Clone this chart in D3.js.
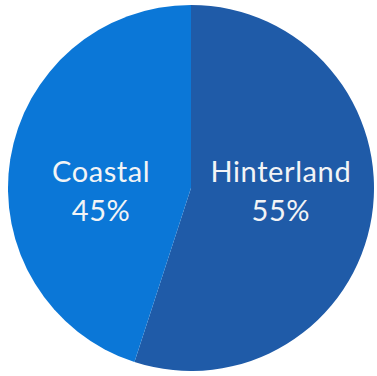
<!DOCTYPE html>
<html>
<head>
<meta charset="utf-8">
<script src="https://cdn.jsdelivr.net/npm/d3@7"></script>
<style>
  body { margin: 0; background: #fff; }
  svg { display: block; }
  .label { font-family: Lato, "Open Sans", sans-serif; font-size: 29px; letter-spacing: 0.6px; fill: #f2f4f6; }
</style>
</head>
<body>
<svg class="chart" width="377" height="376"></svg>
<script>
var names = ["Hinterland", "Coastal"];
var shares = [55, 45];
var colors = ["#1f5ba8", "#0b77d7"];

var svgWidth = 377,
    svgHeight = 376;
var cx = 191, cy = 188, radius = 183;
var labelR = 91;

var pie = d3.pie()
    .sort(null)
    .value(function(d) { return d; });

var arc = d3.arc()
    .innerRadius(0)
    .outerRadius(radius);

var slices = pie(shares);

var g = d3.select(".chart").append("g")
    .attr("transform", "translate(" + cx + "," + cy + ")");

g.selectAll("path.slice")
    .data(slices)
    .enter().append("path")
    .attr("class", "slice")
    .attr("fill", function(d, i) { return colors[i]; })
    .attr("d", arc);

// labels sit level with the centre, pushed out along the slice mid angle
var labels = g.selectAll("text.label")
    .data(slices)
    .enter().append("text")
    .attr("class", "label")
    .attr("text-anchor", "middle")
    .attr("x", function(d) {
        var mid = (d.startAngle + d.endAngle) / 2;
        return Math.sin(mid) * labelR;
    })
    .attr("y", -6);

labels.append("tspan")
    .attr("x", function() { return d3.select(this.parentNode).attr("x"); })
    .text(function(d, i) { return names[i]; });

labels.append("tspan")
    .attr("x", function() { return d3.select(this.parentNode).attr("x"); })
    .attr("dy", 39)
    .text(function(d, i) { return shares[i] + "%"; });
</script>
</body>
</html>
